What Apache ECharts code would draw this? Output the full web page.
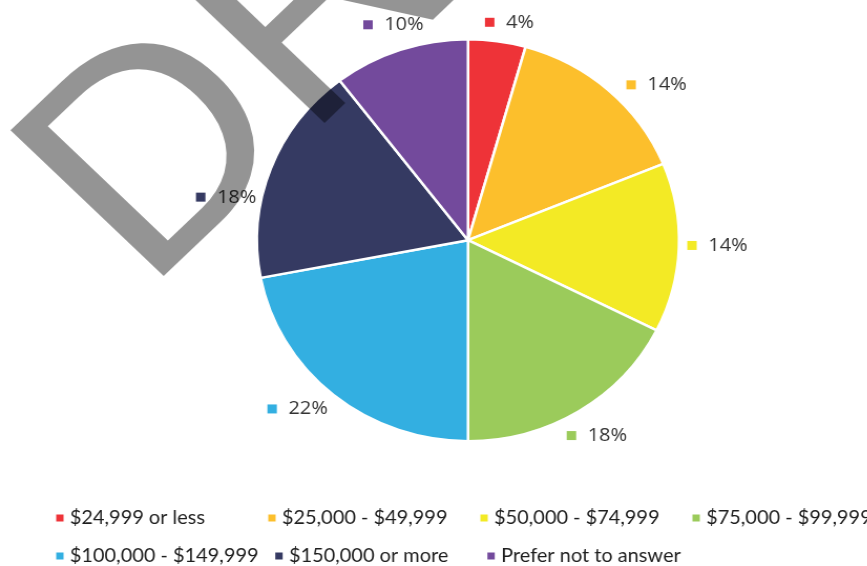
<!DOCTYPE html>
<html>
<head>
<meta charset="utf-8">
<script src="https://cdn.jsdelivr.net/npm/echarts@6/dist/echarts.min.js"></script>
<style>
html, body { margin: 0; padding: 0; background: #fff; overflow: hidden; }
/* the reference is a little wider than tall, so the whole chart is stretched */
#main { width: 826px; height: 566px; transform: scaleX(1.05); transform-origin: 0 0; }
</style>
</head>
<body>
<div id="main"></div>
<script>
var categories = ['$24,999 or less', '$25,000 - $49,999', '$50,000 - $74,999', '$75,000 - $99,999',
    '$100,000 - $149,999', '$150,000 or more', 'Prefer not to answer'];
var shares = [4.4, 14.4, 13.6, 17.6, 22.0, 17.6, 10.4];
var colors = ['#ee3338', '#fcbf2c', '#f3ea25', '#9bcb5b', '#33afe1', '#353a62', '#734a9c'];
// small nudges so the percent labels sit where the original put them
var labelNudge = [[-19, -1], [0, 8], [-15, -3], [-26, 9], [11, 0], [8, 35], [33, -8]];

var chart = echarts.init(document.getElementById('main'));

var rich = { t: { fontFamily: 'Open Sans', fontSize: 19, color: '#333', padding: [0, 0, 0, 11] } };
colors.forEach(function (c, i) {
    rich['m' + i] = { width: 9, height: 9, backgroundColor: c };
});

chart.setOption({
    color: colors,
    animation: false,
    legend: {
        data: categories,
        icon: 'rect',
        itemWidth: 9,
        itemHeight: 9,
        itemGap: 14,
        padding: 0,
        left: 51.5,
        top: 506,
        width: 800,
        textStyle: { fontFamily: 'Lato', fontSize: 19, color: '#1e1e1e', width: 173, height: 24, lineHeight: 24 }
    },
    graphic: [{
        type: 'text',
        x: 80,
        y: 235,
        rotation: Math.PI / 4,
        z: 100,
        silent: true,
        style: {
            text: 'DRAFT',
            font: '300px "Liberation Sans"',
            fill: 'rgba(0,0,0,0.42)',
            verticalAlign: 'middle'
        }
    }],
    series: [{
        type: 'pie',
        center: [445.7, 240.2],
        radius: 201,
        startAngle: 90,
        itemStyle: { borderColor: '#fff', borderWidth: 2.5 },
        label: {
            position: 'outside',
            formatter: function (p) {
                return '{m' + p.dataIndex + '|}{t|' + Math.round(p.percent) + '%}';
            },
            rich: rich
        },
        labelLine: { show: false, length: 18, length2: 0 },
        labelLayout: { moveOverlap: false },
        data: categories.map(function (name, i) {
            return { name: name, value: shares[i], label: { offset: labelNudge[i] } };
        })
    }]
});
</script>
</body>
</html>
